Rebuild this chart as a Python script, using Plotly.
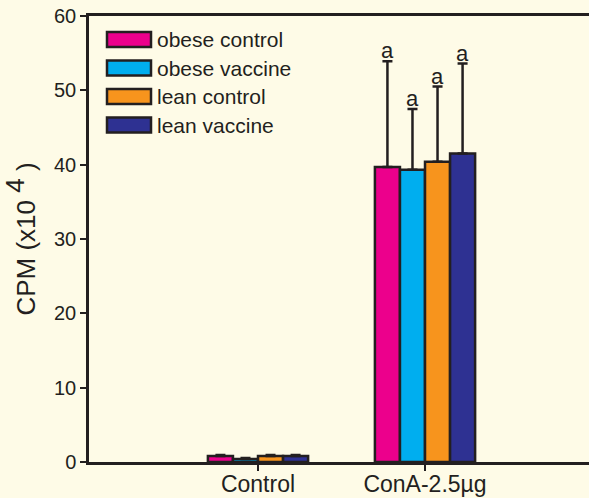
import plotly.graph_objects as go

# Stimulation conditions on the x axis
groups = ["Control", "ConA-2.5µg"]

# Series names and mean proliferation (CPM x10^4) per condition
series = ["obese control", "obese vaccine", "lean control", "lean vaccine"]
means = {
    "obese control": [0.8, 39.7],
    "obese vaccine": [0.4, 39.3],
    "lean control": [0.8, 40.4],
    "lean vaccine": [0.8, 41.5],
}
# Upper error (SD) per condition
errors = {
    "obese control": [0.15, 14.2],
    "obese vaccine": [0.15, 8.2],
    "lean control": [0.15, 10.1],
    "lean vaccine": [0.15, 12.1],
}
# Significance letters per condition ("" = none)
letters = {
    "obese control": ["", "a"],
    "obese vaccine": ["", "a"],
    "lean control": ["", "a"],
    "lean vaccine": ["", "a"],
}

colors = ["#EC008C", "#00AEEF", "#F7941D", "#2E3192"]
ink = "#231F20"
bg = "#FEFBE7"
font_family = "Arial, Liberation Sans, sans-serif"

bar_w = 0.15
n = len(series)
offsets = [(i - (n - 1) / 2) * bar_w for i in range(n)]

fig = go.Figure()
annotations = []
for i, name in enumerate(series):
    xs = [g + offsets[i] for g in range(len(groups))]
    fig.add_trace(go.Bar(
        x=xs, y=means[name], width=bar_w, name=name,
        marker=dict(color=colors[i], line=dict(color=ink, width=2.5)),
        error_y=dict(type="data", array=errors[name], arrayminus=[0] * len(groups),
                     symmetric=False, color=ink, thickness=2.5, width=5),
        showlegend=False,
    ))
    for g, lab in enumerate(letters[name]):
        if lab:
            annotations.append(dict(
                x=xs[g], y=means[name][g] + errors[name][g], xref="x", yref="y",
                text=lab, showarrow=False, yanchor="bottom", yshift=-4,
                font=dict(family=font_family, size=22, color=ink),
            ))

# Hand-drawn legend: wide swatches with labels, top-left of the plot
plot_l, plot_t, plot_w, plot_h = 89, 16, 500, 446
shapes = []
row_y = [39.5, 68, 96.5, 125]
for i, name in enumerate(series):
    cy = row_y[i]
    y0 = (plot_t + plot_h - (cy + 7.5)) / plot_h
    y1 = (plot_t + plot_h - (cy - 7.5)) / plot_h
    shapes.append(dict(
        type="rect", xref="paper", yref="paper",
        x0=(107 - plot_l) / plot_w, x1=(151 - plot_l) / plot_w, y0=y0, y1=y1,
        fillcolor=colors[i], line=dict(color=ink, width=2.5),
    ))
    annotations.append(dict(
        x=(155 - plot_l) / plot_w, y=(plot_t + plot_h - cy) / plot_h,
        xref="paper", yref="paper", text=name, showarrow=False,
        xanchor="left", yanchor="middle",
        font=dict(family=font_family, size=21, color=ink),
    ))

fig.update_layout(
    width=589, height=498,
    margin=dict(l=89, r=0, t=16, b=36),
    paper_bgcolor=bg, plot_bgcolor=bg,
    font=dict(family=font_family, size=20, color=ink),
    barmode="overlay",
    shapes=shapes,
    annotations=annotations,
    xaxis=dict(
        range=[-1.012, 1.982], tickmode="array",
        tickvals=list(range(len(groups))), ticktext=groups,
        showline=True, linecolor=ink, linewidth=2.5, mirror=True,
        ticks="outside", ticklen=6, tickwidth=2, tickcolor=ink,
        showgrid=False, zeroline=False, automargin=False,
        ticklabelstandoff=-6,
        tickfont=dict(family=font_family, size=23, color=ink),
    ),
    yaxis=dict(
        range=[0, 60], tickvals=[0, 10, 20, 30, 40, 50, 60],
        showline=True, linecolor=ink, linewidth=2.5,
        ticks="outside", ticklen=6, tickwidth=2, tickcolor=ink,
        showgrid=False, zeroline=False, automargin=False,
        tickfont=dict(family=font_family, size=20, color=ink),
        title=dict(text="CPM (x10 <sup><span style='font-size:26px'>4</span></sup> )",
                   standoff=14,
                   font=dict(family=font_family, size=26, color=ink)),
    ),
)

fig.write_html("out.html")
